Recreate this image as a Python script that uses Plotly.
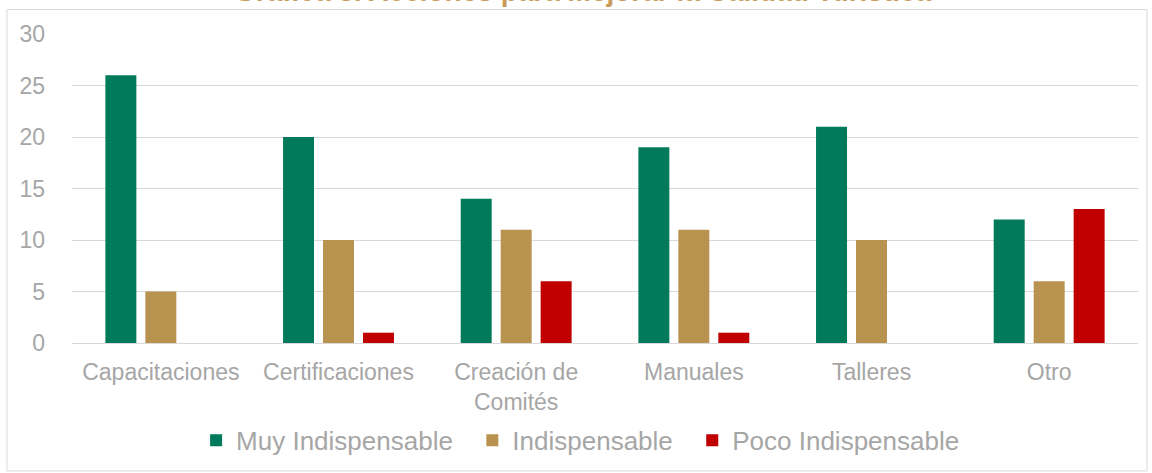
"""
Grouped bar chart: Gráfica 8. Acciones para Mejorar la Calidad Turística.
"""

import plotly.graph_objects as go

categories = ['Capacitaciones', 'Certificaciones', 'Creación de<br>Comités',
              'Manuales', 'Talleres', 'Otro']
muy_indispensable = [26, 20, 14, 19, 21, 12]
indispensable = [5, 10, 11, 11, 10, 6]
poco_indispensable = [0, 1, 6, 1, 0, 13]

series_names = ['Muy Indispensable', 'Indispensable', 'Poco Indispensable']
series_colors = ['#007A5A', '#B8924F', '#C00000']

title_text = 'Gráfica 8. Acciones para Mejorar la Calidad Turística'

GRAY = '#A6A6A6'
GRID = '#D9D9D9'
FONT = 'Liberation Sans, Arial, sans-serif'
NBSP = '\u00a0'

# trailing no-break spaces widen the legend entries like the original
legend_pad = [2, 2, 0]

fig = go.Figure()
for name, values, color, pad in zip(series_names,
                                    [muy_indispensable, indispensable, poco_indispensable],
                                    series_colors, legend_pad):
    fig.add_trace(go.Bar(
        x=categories,
        y=values,
        name=name + NBSP * pad,
        marker=dict(color=color, line=dict(width=0)),
        hovertemplate='<b>%{x}</b><br>' + name + ': %{y}<extra></extra>'
    ))

# Title sits partly above the visible page, as in the original capture
fig.add_annotation(
    text=f'<b>{title_text}</b>',
    xref='paper', yref='paper',
    x=0.4794, y=1.138,
    xanchor='center', yanchor='middle',
    showarrow=False,
    font=dict(family=FONT, size=28, color='#C89B5B')
)

# Light border round the chart area
fig.add_shape(
    type='rect', xref='paper', yref='paper',
    x0=-0.061, x1=1.0084, y0=-0.414, y1=1.0793,
    line=dict(color=GRID, width=1),
    fillcolor='rgba(0,0,0,0)', layer='below'
)

fig.update_layout(
    width=1152,
    height=473,
    barmode='group',
    bargap=0.325,
    bargroupgap=0.225,
    paper_bgcolor='white',
    plot_bgcolor='white',
    font=dict(family=FONT, size=23, color=GRAY),
    margin=dict(t=34, l=72, r=14, b=130, autoexpand=False),
    showlegend=True,
    legend=dict(
        orientation='h',
        x=0.4771, y=-0.239,
        xanchor='center', yanchor='top',
        bgcolor='rgba(0,0,0,0)',
        font=dict(family=FONT, size=26, color=GRAY),
        itemsizing='constant'
    ),
    xaxis=dict(
        showgrid=False,
        showline=True,
        linecolor=GRID,
        linewidth=1,
        ticks='',
        tickfont=dict(size=23, color=GRAY),
        ticklabelstandoff=8
    ),
    yaxis=dict(
        range=[0, 30],
        dtick=5,
        showgrid=True,
        gridcolor=GRID,
        gridwidth=1,
        zeroline=False,
        showline=False,
        ticks='',
        tickfont=dict(size=23, color=GRAY),
        ticklabelstandoff=26
    )
)

# drop the page's default body margin so the figure sits at the window corner
fig.write_html('out.html', config={'displayModeBar': False},
               post_script="document.body.style.margin='0px';")
